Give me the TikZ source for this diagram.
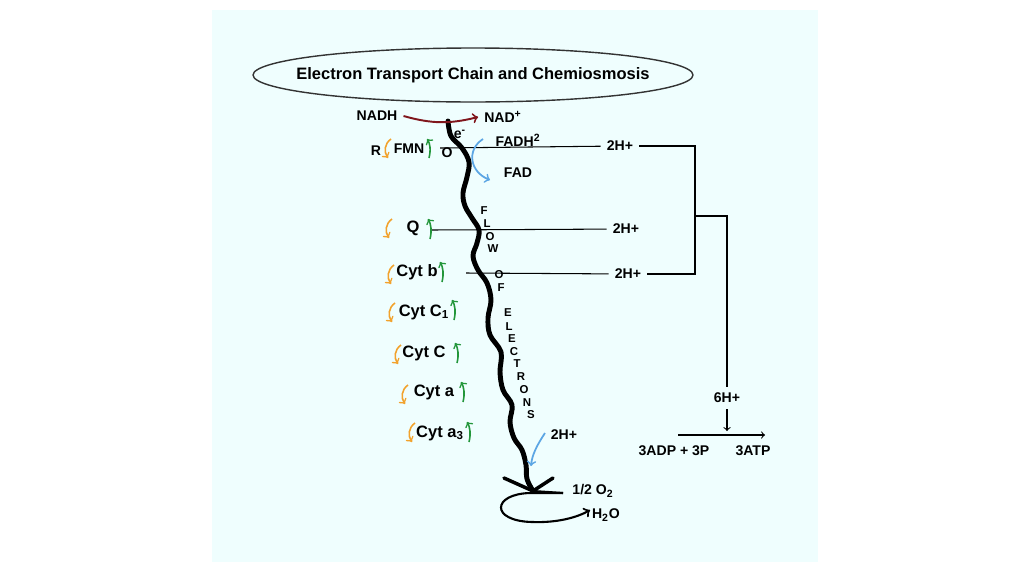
\documentclass[tikz,border=0pt]{standalone}
\usepackage{fontspec}
\setmainfont{Liberation Sans}

\definecolor{bgcyan}{RGB}{239,254,254}
\definecolor{nadred}{RGB}{128,22,28}
\definecolor{fadblue}{RGB}{92,166,228}
\definecolor{outorange}{RGB}{242,162,44}
\definecolor{ingreen}{RGB}{34,150,58}

\tikzset{
  lbl/.style={font=\fontsize{8}{9.6}\selectfont\bfseries},
  carrier/.style={font=\fontsize{9.4}{11}\selectfont\bfseries},
  letter/.style={font=\fontsize{6.5}{7}\selectfont\bfseries, inner sep=0pt},
  membrane/.style={line width=0.6pt},
  chain/.style={line width=2.8pt, line cap=round},
  outarr/.style={->, outorange, line width=0.9pt},
  inarr/.style={->, ingreen, line width=0.9pt},
  bluearr/.style={->, fadblue, line width=1pt},
}

\begin{document}
\begin{tikzpicture}[x=0.02cm, y=-0.02cm]
  \useasboundingbox (0,0) rectangle (1024,575);
  \fill[white] (0,0) rectangle (1024,575);
  \fill[bgcyan] (212,10) rectangle (818,562);

  % title
  \node[font=\fontsize{9.4}{11}\selectfont\bfseries] (title) at (473,75)
        {Electron Transport Chain and Chemiosmosis};
  \draw[black!80, line width=0.8pt] (title.center) ellipse [x radius=4.4cm, y radius=0.54cm];

  % carriers
  \node[lbl] (nadh) at (377,116) {NADH};
  \node[lbl] (nad) at (503,117) {NAD\textsuperscript{+}};
  \node[lbl] (rr) at (376,151) {R};
  \node[lbl] (fmn) at (409,149) {FMN};
  \node[lbl, inner sep=0pt] (fmno) at (447,153) {O};
  \node[lbl, inner sep=0pt] (elec) at (460,134) {e\textsuperscript{-}};
  \node[lbl] (fadh) at (518,140) {FADH\textsuperscript{2}};
  \node[lbl] (fad) at (518,173) {FAD};
  \node[carrier] (q) at (413,228) {Q};
  \node[carrier] (cytb) at (417,272) {Cyt b};
  \node[carrier] (cytcone) at (424,312) {Cyt C\textsubscript{1}};
  \node[carrier] (cytc) at (424,353) {Cyt C};
  \node[carrier] (cyta) at (434,392) {Cyt a};
  \node[carrier] (cytathree) at (440,433) {Cyt a\textsubscript{3}};

  % protons
  \node[lbl] (hA) at (620,146) {2H+};
  \node[lbl] (hB) at (626,229) {2H+};
  \node[lbl] (hC) at (628,274) {2H+};
  \node[lbl] (hD) at (564,435) {2H+};
  \node[lbl] (six) at (727,398) {6H+};
  \node[lbl] (adp) at (674,451) {3ADP + 3P};
  \node[lbl] (atp) at (753,451) {3ATP};
  \node[lbl] (half) at (593,491) {1/2 O\textsubscript{2}};
  \node[lbl] (water) at (606,515) {H\textsubscript{2}O};

  % flow of electrons
  \node[letter] (f1) at (484,211) {F};
  \node[letter] (f2) at (487,224) {L};
  \node[letter] (f3) at (490,237) {O};
  \node[letter] (f4) at (493,249) {W};
  \node[letter] (f5) at (499,275) {O};
  \node[letter] (f6) at (501,288) {F};
  \node[letter] (f7) at (508,313) {E};
  \node[letter] (f8) at (509,327) {L};
  \node[letter] (f9) at (512,339) {E};
  \node[letter] (f10) at (514,352) {C};
  \node[letter] (f11) at (517,364) {T};
  \node[letter] (f12) at (521,377) {R};
  \node[letter] (f13) at (524,390) {O};
  \node[letter] (f14) at (527,403) {N};
  \node[letter] (f15) at (531,415) {S};

  \coordinate (lA) at (440,148);
  \coordinate (lB) at (432,230);
  \coordinate (lC) at (466,273);
  \coordinate (bA) at (695,146);
  \coordinate (bC) at (695,274);
  \coordinate (bM) at (695,216);
  \coordinate (bT) at (727,216);
  \coordinate (rm) at (727,431);
  \coordinate (r1) at (678,435);
  \coordinate (r2) at (765,435);
  \coordinate (vtip) at (533,491);

  % membrane lines
  \draw[membrane] (lA) -- (hA);
  \draw[membrane] (lB) -- (hB);
  \draw[membrane] (lC) -- (hC);
  \draw[membrane] (hA) -- (bA) -- (bC) -- (hC);
  \draw[membrane] (bM) -- (bT) -- (six);
  \draw[membrane, ->] (six) -- (rm);
  \draw[membrane, ->] (r1) -- (r2);

  % electron chain
  \draw[chain] plot[smooth, tension=0.6] coordinates {
    (448,121) (451,136) (462,148) (469,162) (467,177) (463,193) (465,206)
    (472,218) (479,230) (477,243) (473,256) (478,270) (487,283) (491,300)
    (488,318) (490,335) (501,352) (500,372) (503,390) (512,405) (510,422)
    (514,438) (522,450) (526,465) (527,479) (vtip)};
  \draw[line width=2pt, line cap=round] (504,478) -- (vtip) -- (553,478);
  \draw[line width=1.2pt] (vtip) -- (563,493);
  \draw[->, line width=1.2pt] (563,493) -- (530,493) .. controls (492,494) and (490,521) .. (532,522)
    .. controls (558,523) and (578,517) .. (590,510);

  \draw[->, nadred, line width=1.1pt] (nadh.east) to[bend right=15] (nad.west);
  \draw[bluearr] (483,139) .. controls (466,150) and (470,172) .. (490,180);
  \draw[bluearr] (545,433) .. controls (537,445) and (532,455) .. (531,466);

  % carrier arrows
  \draw[outarr] (391,139) .. controls (384,144) and (384,152) .. (388,158);
  \draw[inarr] (429,158) .. controls (431,150) and (430,143) .. (427,139);
  \draw[outarr] (392,219) .. controls (385,224) and (385,232) .. (389,238);
  \draw[inarr] (430,239) .. controls (432,231) and (431,224) .. (428,219);
  \draw[outarr] (394,265) .. controls (387,270) and (387,278) .. (391,284);
  \draw[inarr] (442,282) .. controls (444,274) and (443,267) .. (440,262);
  \draw[outarr] (395,303) .. controls (388,308) and (388,316) .. (392,322);
  \draw[inarr] (454,320) .. controls (456,312) and (455,305) .. (452,300);
  \draw[outarr] (401,345) .. controls (394,350) and (394,358) .. (398,364);
  \draw[inarr] (457,363) .. controls (459,355) and (458,348) .. (455,343);
  \draw[outarr] (408,385) .. controls (401,390) and (401,398) .. (405,404);
  \draw[inarr] (463,402) .. controls (465,394) and (464,387) .. (461,382);
  \draw[outarr] (415,423) .. controls (408,428) and (408,436) .. (412,442);
  \draw[inarr] (469,442) .. controls (471,434) and (470,427) .. (467,422);
\end{tikzpicture}
\end{document}
